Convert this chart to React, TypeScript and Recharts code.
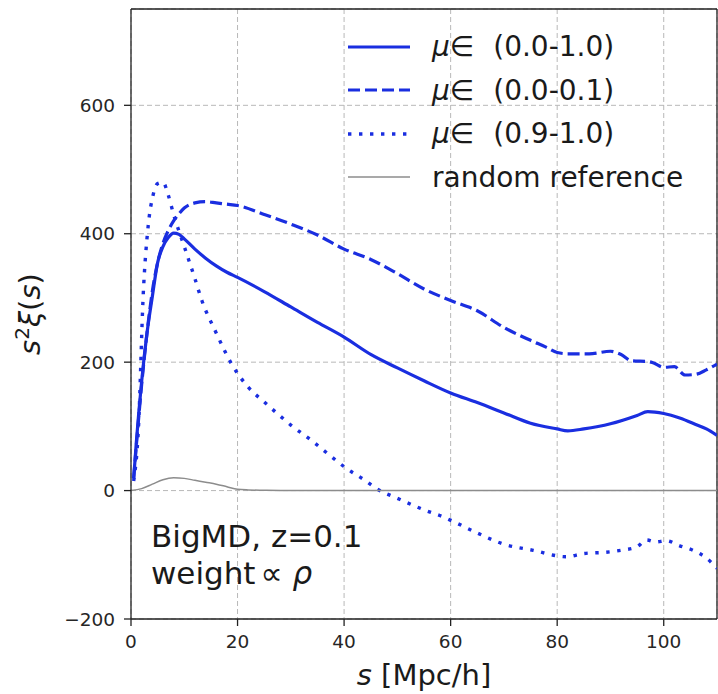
import React from "react";
import { LineChart, Line, XAxis, YAxis, CartesianGrid, Legend, Label, ReferenceLine } from "recharts";

const FONT = "'DejaVu Sans', sans-serif";
const BLUE = "#1a2ee0";

// mu in (0.0-1.0)
const sFull = [0.5, 1, 2, 3, 4, 5, 6, 7, 8, 9, 10, 12, 14, 16, 18, 20, 25, 30, 35, 40, 45, 50, 55, 60, 65, 70, 75, 80, 82, 85, 90, 95, 97, 100, 103, 106, 108, 110];
const xiFull = [19, 75, 170, 245, 302, 355, 380, 394, 401, 399, 392, 376, 362, 350, 340, 332, 310, 286, 262, 239, 212, 191, 171, 152, 137, 121, 105, 96, 93, 96, 104, 117, 123, 120, 113, 103, 96, 86];

// mu in (0.0-0.1)
const sPerp = [0.5, 1, 2, 3, 4, 5, 6, 7, 8, 9, 10, 12, 14, 16, 18, 20, 25, 30, 35, 40, 45, 50, 55, 60, 65, 70, 75, 78, 80, 82, 86, 90, 92, 94, 97, 98, 100, 102, 104, 106, 108, 110];
const xiPerp = [19, 70, 165, 245, 310, 355, 385, 405, 420, 431, 440, 448, 450, 448, 446, 444, 430, 415, 398, 376, 360, 338, 314, 296, 280, 254, 234, 223, 215, 213, 213, 217, 212, 202, 201, 199, 192, 193, 180, 181, 188, 197];

// mu in (0.9-1.0)
const sPar = [0.5, 1.4, 2.3, 3.2, 4.2, 5, 6, 7, 8, 10, 12, 13.3, 15.8, 18.9, 22, 25, 27.6, 30, 33.9, 37, 40.2, 43.9, 46.1, 50, 55, 58.6, 60.2, 65, 69.8, 75.5, 81.7, 85, 89.2, 92, 94.9, 96.8, 98.5, 100.5, 103, 105.5, 108, 110];
const xiPar = [15, 98, 306, 410, 462, 478, 480, 460, 430, 380, 330, 296, 249, 197, 161, 138, 119, 102, 78, 57, 36, 16, 3, -12, -30, -41, -47, -66, -83, -93, -103, -98, -96, -93, -88, -77, -80, -78, -86, -93, -105, -121];

// random reference
const sRand = [0, 2, 4, 6, 8, 10, 12, 14, 16, 18, 20, 22, 25, 30, 50, 70, 90, 110];
const xiRand = [0, 3, 10, 17, 20, 19, 16, 13, 10, 6, 2, 1, 0.5, 0, 0, 0, 0, 0];

const xTicks = [0, 20, 40, 60, 80, 100];
const yTicks = [-200, 0, 200, 400, 600];
const legendRanges = ["(0.0-1.0)", "(0.0-0.1)", "(0.9-1.0)"];

const toRows = (s: number[], v: number[]) => s.map((x, i) => ({ s: x, v: v[i] }));

const legendLines = [
  { stroke: BLUE, width: 3.2, dash: undefined as string | undefined, label: legendRanges[0] },
  { stroke: BLUE, width: 3.2, dash: "12 5", label: legendRanges[1] },
  { stroke: BLUE, width: 3.4, dash: "3.4 7.6", label: legendRanges[2] },
  { stroke: "#8c8c8c", width: 1.5, dash: undefined, label: "random reference" },
];

const LegendBox = () => (
  <div style={{ fontFamily: FONT, fontSize: 28, color: "#1a1a1a" }}>
    {legendLines.map((l, i) => (
      <div key={i} style={{ display: "flex", alignItems: "center", height: 43.5 }}>
        <svg width={62} height={10} style={{ flex: "none" }}>
          <line x1={0} y1={5} x2={62} y2={5} stroke={l.stroke} strokeWidth={l.width} strokeDasharray={l.dash} />
        </svg>
        <span style={{ marginLeft: 22, whiteSpace: "nowrap" }}>
          {i < 3 ? (
            <>
              <i>μ</i>∈<span style={{ marginLeft: 19 }}>{l.label}</span>
            </>
          ) : (
            l.label
          )}
        </span>
      </div>
    ))}
  </div>
);

const fmt = (v: number) => String(v).replace("-", "\u2212");

export default function App() {
  return (
    <div style={{ position: "absolute", left: 0, top: 0, background: "#fff" }}>
      <LineChart width={718} height={694} margin={{ top: 9, right: 1, bottom: 5, left: 0 }}>
        <CartesianGrid stroke="#b8b8b8" strokeDasharray="5 3" strokeWidth={1} />
        <XAxis
          type="number"
          dataKey="s"
          domain={[0, 110]}
          ticks={xTicks}
          height={70}
          tickSize={7}
          tickMargin={9}
          stroke="#222"
          strokeWidth={1.3}
          tick={{ fontSize: 18.5, fill: "#262626", fontFamily: FONT }}
          allowDataOverflow
        >
          <Label
            content={(p: any) => {
              const vb = p.viewBox;
              return (
                <text x={vb.x + vb.width / 2} y={vb.y + 66} textAnchor="middle" fontFamily={FONT} fontSize={29} fill="#1a1a1a">
                  <tspan fontStyle="italic">s</tspan> [Mpc/h]
                </text>
              );
            }}
          />
        </XAxis>
        <YAxis
          type="number"
          domain={[-200, 750]}
          ticks={yTicks}
          width={131}
          tickSize={7}
          tickMargin={9}
          stroke="#222"
          strokeWidth={1.3}
          tickFormatter={fmt}
          tick={{ fontSize: 18.5, fill: "#262626", fontFamily: FONT }}
          allowDataOverflow
        >
          <Label
            content={(p: any) => {
              const vb = p.viewBox;
              const cx = 40;
              const cy = vb.y + vb.height / 2;
              return (
                <g>
                  <text x={cx} y={cy} textAnchor="middle" transform={`rotate(-90, ${cx}, ${cy})`} fontFamily={FONT} fontSize={29} fill="#1a1a1a">
                    <tspan fontStyle="italic">s</tspan>
                    <tspan fontSize={20} dy={-11}>2</tspan>
                    <tspan fontStyle="italic" dy={11}>ξ</tspan>(<tspan fontStyle="italic">s</tspan>)
                  </text>
                  <text x={vb.x + vb.width + 20} y={547} fontFamily={FONT} fontSize={31} fill="#1a1a1a">
                    BigMD, z=0.1
                  </text>
                  <text x={vb.x + vb.width + 20} y={584} fontFamily={FONT} fontSize={31} fill="#1a1a1a">
                    weight<tspan dx={5}>∝</tspan> <tspan fontStyle="italic">ρ</tspan>
                  </text>
                </g>
              );
            }}
          />
        </YAxis>
        <ReferenceLine y={750} stroke="#222" strokeWidth={1.3} />
        <ReferenceLine x={110} stroke="#222" strokeWidth={1.3} />
        <Legend
          layout="horizontal"
          verticalAlign="middle"
          align="center"
          wrapperStyle={{ top: 25, left: 348, width: 370, height: 180 }}
          content={() => <LegendBox />}
        />
        <Line data={toRows(sFull, xiFull)} dataKey="v" name={legendRanges[0]} type="monotone" stroke={BLUE} strokeWidth={3.2} dot={false} isAnimationActive={false} />
        <Line data={toRows(sPerp, xiPerp)} dataKey="v" name={legendRanges[1]} type="monotone" stroke={BLUE} strokeWidth={3.2} strokeDasharray="12 5" dot={false} isAnimationActive={false} />
        <Line data={toRows(sPar, xiPar)} dataKey="v" name={legendRanges[2]} type="monotone" stroke={BLUE} strokeWidth={3.4} strokeDasharray="3.4 7.6" dot={false} isAnimationActive={false} />
        <Line data={toRows(sRand, xiRand)} dataKey="v" name="random reference" type="monotone" stroke="#8c8c8c" strokeWidth={1.5} dot={false} isAnimationActive={false} />
      </LineChart>
    </div>
  );
}
